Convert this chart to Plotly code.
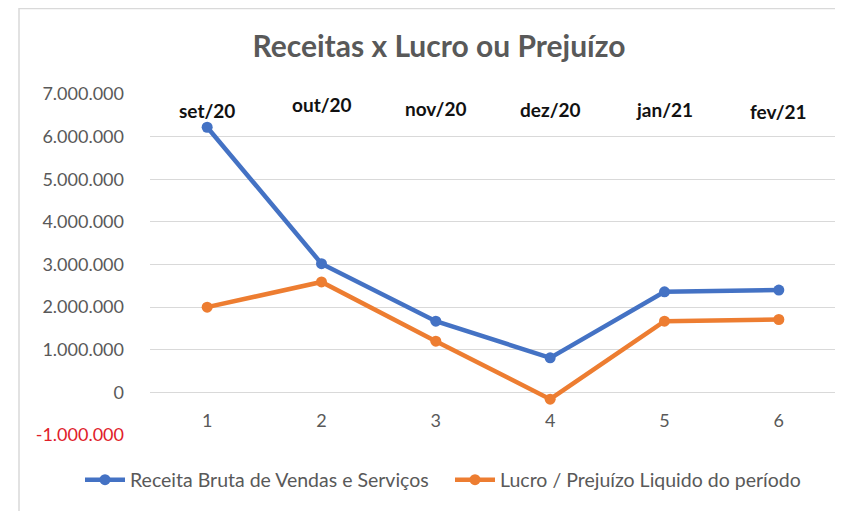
import plotly.graph_objects as go

periods = [1, 2, 3, 4, 5, 6]
months = ["set/20", "out/20", "nov/20", "dez/20", "jan/21", "fev/21"]
receita = [6220000, 3020000, 1670000, 810000, 2360000, 2400000]
lucro = [2000000, 2590000, 1200000, -160000, 1670000, 1710000]
month_label_y = [6620000, 6760000, 6660000, 6640000, 6640000, 6580000]
y_ticks = [-1000000, 0, 1000000, 2000000, 3000000, 4000000, 5000000, 6000000, 7000000]
y_tick_text = ['<span style="color:#e0202a">-1.000.000</span>', "0", "1.000.000", "2.000.000",
               "3.000.000", "4.000.000", "5.000.000", "6.000.000", "7.000.000"]

FONT = "Lato, 'Open Sans', sans-serif"
GRAY = "#595959"

# page offset of 8px (browser body margin) is compensated below
L, R, T, B = 142, 15, 86, 84
PW, PH = 843 - L - R, 511 - T - B

fig = go.Figure()
fig.add_trace(go.Scatter(
    x=periods, y=receita, mode="lines+markers",
    name="Receita Bruta de Vendas e Serviços",
    line=dict(color="#4472C4", width=4.5),
    marker=dict(size=11, color="#4472C4"),
    legend="legend",
))
fig.add_trace(go.Scatter(
    x=periods, y=lucro, mode="lines+markers",
    name="Lucro / Prejuízo Liquido do período",
    line=dict(color="#ED7D31", width=4.5),
    marker=dict(size=11, color="#ED7D31"),
    legend="legend2",
))

for p, m, yy in zip(periods, months, month_label_y):
    fig.add_annotation(x=p, y=yy, xref="x", yref="y", text="<b>" + m + "</b>",
                       showarrow=False, font=dict(family=FONT, size=19, color="#111111"))

fig.add_shape(type="rect", xref="paper", yref="paper",
              x0=(11 - L) / PW, x1=(860 - L) / PW,
              y0=(PH + T - 530) / PH, y1=(PH + T - 0.5) / PH,
              line=dict(color="#d9d9d9", width=1.5), layer="below")

legend_common = dict(orientation="h", xanchor="left", yanchor="middle",
                     y=(T + PH - 472) / PH,
                     font=dict(family=FONT, size=19.5, color=GRAY), itemwidth=40,
                     bgcolor="rgba(0,0,0,0)")

fig.update_layout(
    width=843, height=511,
    margin=dict(l=L, r=R, t=T, b=B, autoexpand=False),
    paper_bgcolor="white", plot_bgcolor="white",
    title=dict(text="<b>Receitas x Lucro ou Prejuízo</b>", x=431 / 843, xanchor="center",
               y=1 - 38 / 511, yanchor="middle",
               font=dict(family=FONT, size=30, color=GRAY)),
    font=dict(family=FONT, size=18, color=GRAY),
    showlegend=True,
    legend=dict(x=(72 - L) / PW, **legend_common),
    legend2=dict(x=(442 - L) / PW, **legend_common),
    xaxis=dict(range=[0.5, 6.5], tickvals=periods, ticktext=[str(p) for p in periods],
               showgrid=False, zeroline=False, showline=False, ticks="",
               anchor="free", position=0.125, ticklabelstandoff=16,
               tickfont=dict(family=FONT, size=18, color=GRAY)),
    yaxis=dict(range=[-1000000, 7000000], tickvals=y_ticks, ticktext=y_tick_text,
               showgrid=True, gridcolor="#d9d9d9", gridwidth=1,
               zeroline=False, showline=False, ticks="", ticklabelstandoff=25,
               tickfont=dict(family=FONT, size=18, color=GRAY)),
)

fig.write_html("out.html")
